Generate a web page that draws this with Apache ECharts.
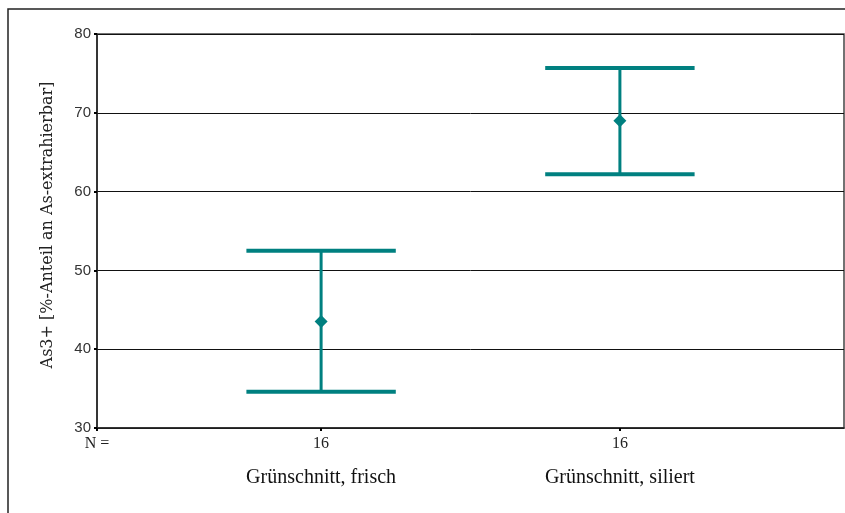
<!DOCTYPE html>
<html>
<head>
<meta charset="utf-8">
<script src="https://cdn.jsdelivr.net/npm/echarts@6/dist/echarts.min.js"></script>
<style>
html,body{margin:0;padding:0;background:#fff;}
#chart{width:845px;height:513px;}
</style>
</head>
<body>
<div id="chart"></div>
<script>
var categories = ['Grünschnitt, frisch', 'Grünschnitt, siliert'];
var nValues = [16, 16];
var means = [43.5, 69.0];
var lows = [34.6, 62.2];
var highs = [52.5, 75.7];
var yTicks = [30, 40, 50, 60, 70, 80];

var positions = categories.map(function (c, i) { return i + 1; });
var teal = '#008080';

var errData = positions.map(function (p, i) { return [p, lows[i], highs[i]]; });
var meanData = positions.map(function (p, i) { return [p, means[i]]; });

var chart = echarts.init(document.getElementById('chart'));
chart.setOption({
  animation: false,
  backgroundColor: '#fff',
  graphic: [{
    type: 'rect',
    shape: { x: 8, y: 9, width: 900, height: 600 },
    style: { fill: 'none', stroke: '#222', lineWidth: 1.5 },
    silent: true, z: -1
  }],
  grid: { left: 97, right: 1, top: 34, bottom: 85, show: true, borderColor: '#444', borderWidth: 1.5 },
  xAxis: {
    type: 'value',
    min: 0.25,
    max: 2.75,
    splitLine: { show: false },
    axisLine: { show: true, lineStyle: { color: '#222', width: 1.5 } },
    axisTick: { show: true, length: 3, customValues: [0.25].concat(positions), lineStyle: { color: '#000', width: 2 } },
    axisLabel: {
      customValues: [0.25].concat(positions),
      margin: 6,
      verticalAlign: 'top',
      formatter: function (v) {
        if (v < 0.5) return '{n|N =}';
        var i = Math.round(v) - 1;
        return '{n|' + nValues[i] + '}\n{c|' + categories[i] + '}';
      },
      rich: {
        n: { fontFamily: 'Liberation Serif', fontSize: 16, color: '#222', lineHeight: 20 },
        c: { fontFamily: 'Liberation Serif', fontSize: 20, color: '#111', lineHeight: 48 }
      }
    }
  },
  yAxis: {
    type: 'value',
    min: yTicks[0],
    max: yTicks[yTicks.length - 1],
    interval: 10,
    name: 'As3+ [%-Anteil an As-extrahierbar]',
    nameLocation: 'middle',
    nameGap: 41,
    nameTextStyle: { fontFamily: 'DejaVu Serif', fontSize: 16, color: '#222', padding: [0, 0, 0, 12] },
    axisLine: { show: true, lineStyle: { color: '#222', width: 1.5 } },
    axisTick: { show: true, length: 3, lineStyle: { color: '#000', width: 2 } },
    axisLabel: { margin: 6, fontFamily: 'Liberation Sans', fontSize: 15, color: '#333' },
    splitLine: { show: true, lineStyle: { color: '#111', width: 1 } }
  },
  series: [{
    type: 'custom',
    data: errData,
    renderItem: function (params, api) {
      var x = api.value(0);
      var lo = api.coord([x, api.value(1)]);
      var hi = api.coord([x, api.value(2)]);
      var hw = api.size([0.25, 0])[0];
      var capStyle = { stroke: teal, lineWidth: 4 };
      return {
        type: 'group',
        children: [
          { type: 'line', shape: { x1: lo[0], y1: lo[1], x2: hi[0], y2: hi[1] }, style: { stroke: teal, lineWidth: 3 } },
          { type: 'line', shape: { x1: hi[0] - hw, y1: hi[1], x2: hi[0] + hw, y2: hi[1] }, style: capStyle },
          { type: 'line', shape: { x1: lo[0] - hw, y1: lo[1], x2: lo[0] + hw, y2: lo[1] }, style: capStyle }
        ]
      };
    },
    z: 3
  }, {
    type: 'scatter',
    data: meanData,
    symbol: 'diamond',
    symbolSize: 13,
    itemStyle: { color: teal, opacity: 1 },
    z: 4
  }]
});
</script>
</body>
</html>
